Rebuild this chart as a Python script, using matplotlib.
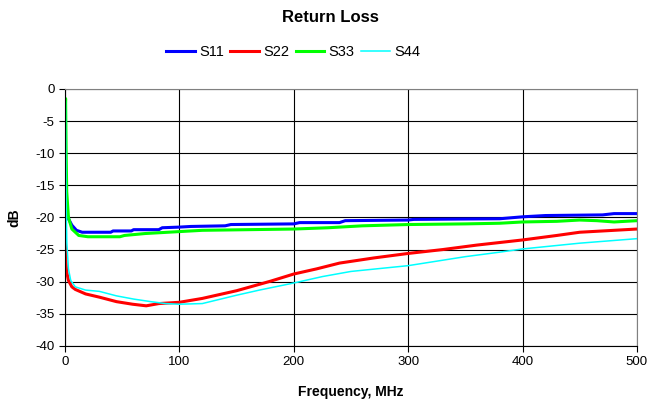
import numpy as np
import matplotlib.pyplot as plt

plt.rcParams['font.family'] = ['Liberation Sans', 'DejaVu Sans']
plt.rcParams['axes.unicode_minus'] = False

# ----- data -----
f11 = [0.3, 0.6, 1.5, 3, 6, 10, 15, 40, 42, 58, 60, 82, 85, 100, 110, 140, 145, 200, 205,
       240, 245, 300, 305, 380, 400, 420, 470, 480, 500]
s11 = [-17.5, -18.2, -19.3, -20.2, -21.2, -22.0, -22.3, -22.3, -22.1, -22.1, -21.9, -21.9,
       -21.6, -21.5, -21.4, -21.3, -21.1, -21.0, -20.8, -20.8, -20.5, -20.4, -20.3,
       -20.2, -19.9, -19.7, -19.6, -19.4, -19.4]

f22 = [0.3, 0.6, 1.5, 3, 6, 9, 18, 30, 45, 59, 71, 82, 100, 120, 150, 180, 200, 220,
       240, 270, 300, 330, 360, 400, 430, 450, 470, 500]
s22 = [-23.5, -26.5, -28.5, -29.8, -30.8, -31.2, -31.9, -32.4, -33.1, -33.5, -33.75, -33.4,
       -33.2, -32.6, -31.4, -29.9, -28.8, -28.0, -27.1, -26.3, -25.6, -25.0, -24.3,
       -23.5, -22.8, -22.3, -22.1, -21.8]

f33 = [0.2, 0.5, 1.0, 1.5, 3, 6, 12, 20, 48, 52, 70, 90, 100, 120, 200, 230, 260, 300,
       350, 380, 400, 430, 450, 465, 480, 500]
s33 = [-4.0, -1.5, -10.0, -16.0, -20.0, -21.8, -22.8, -23.0, -23.0, -22.8, -22.5, -22.3,
       -22.2, -22.0, -21.8, -21.6, -21.3, -21.1, -21.0, -20.9, -20.7, -20.6, -20.4,
       -20.5, -20.7, -20.5]

f44 = [0.1, 0.4, 1.0, 1.6, 3, 5, 9, 18, 30, 45, 60, 75, 88, 100, 120, 150, 170, 200,
       225, 250, 300, 350, 380, 400, 450, 500]
s44 = [-1.5, -2.0, -18.0, -24.0, -28.0, -29.8, -30.8, -31.3, -31.5, -32.2, -32.7, -33.1,
       -33.4, -33.5, -33.4, -32.1, -31.3, -30.2, -29.2, -28.4, -27.5, -26.1, -25.4,
       -24.9, -24.0, -23.3]

fig, ax = plt.subplots(figsize=(6.6, 4.08), dpi=100)
fig.subplots_adjust(left=0.0985, right=0.965, top=0.782, bottom=0.152)

ax.plot(f11, s11, color='#0000ff', lw=2.2, label='S11')
ax.plot(f22, s22, color='#ff0000', lw=2.2, label='S22')
ax.plot(f33, s33, color='#00ff00', lw=2.2, label='S33')
ax.plot(f44, s44, color='#00ffff', lw=1.1, label='S44')

ax.set_xlim(0, 500)
ax.set_ylim(-40, 0)
ax.set_xticks(range(0, 501, 100))
ax.set_yticks(range(-40, 1, 5))
ax.grid(True, color='black', lw=0.8)
ax.set_axisbelow(True)
ax.tick_params(labelsize=9.5, direction='out', length=4, color='black')
for sp in ax.spines.values():
    sp.set_color('#808080')
ax.spines['left'].set_color('black')
ax.spines['bottom'].set_color('black')

ax.set_xlabel('Frequency, MHz', fontsize=10, fontweight='bold', labelpad=12)
ax.set_ylabel('dB', fontsize=10, fontweight='bold', labelpad=10)
fig.suptitle('Return Loss', fontsize=12, fontweight='bold', y=0.975)
fig.legend(loc='center', bbox_to_anchor=(0.444, 0.872), ncol=4, frameon=False,
           fontsize=10.5, handlelength=1.95, columnspacing=0.45, handletextpad=0.3)

fig.savefig('out.png', dpi=100)
